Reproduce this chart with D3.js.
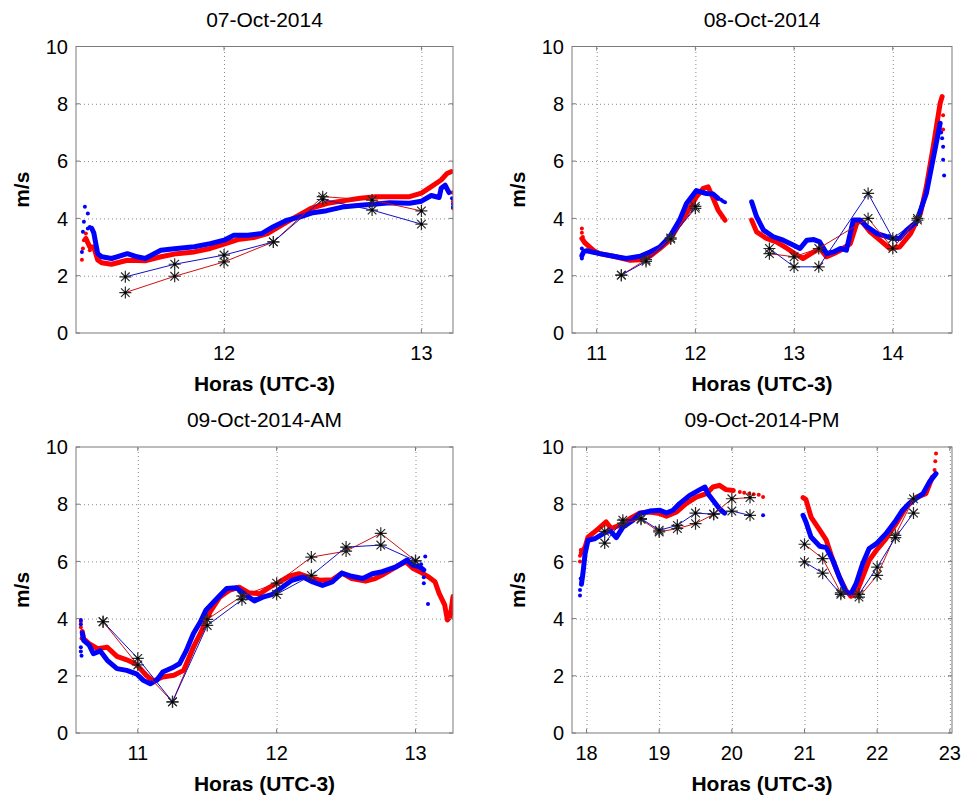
<!DOCTYPE html>
<html>
<head>
<meta charset="utf-8">
<script src="https://cdn.jsdelivr.net/npm/d3@7"></script>
<style>
  body { margin: 0; background: #fff; }
  text { font-family: "Liberation Sans", Arial, Helvetica, sans-serif; }
</style>
</head>
<body>
<div id="my_dataviz"></div>
<script>
// ---- data: [hour, m/s] ----
var yTicks = [0, 2, 4, 6, 8, 10];

// 07-Oct-2014
var p1Red = [[11.30,3.3],[11.32,3.0],[11.34,3.0],[11.36,2.55],[11.38,2.45],[11.43,2.40],[11.51,2.54],[11.60,2.52],[11.68,2.66],[11.76,2.77],[11.85,2.83],[11.93,2.95],[12.0,3.10],[12.07,3.26],[12.15,3.33],[12.22,3.47],[12.29,3.76],[12.35,4.0],[12.44,4.35],[12.52,4.52],[12.61,4.62],[12.69,4.70],[12.77,4.76],[12.84,4.76],[12.94,4.76],[13.0,4.88],[13.05,5.11],[13.10,5.34],[13.13,5.57],[13.15,5.63]];
var p1RedDots = [[11.28,2.56],[11.285,2.95],[11.29,3.24],[11.30,3.47],[11.31,3.12],[11.32,2.89],[13.155,4.9],[13.16,4.6],[13.16,4.35]];
var p1Blue = [[11.33,3.65],[11.34,3.5],[11.36,2.77],[11.38,2.66],[11.43,2.60],[11.51,2.77],[11.56,2.66],[11.60,2.60],[11.68,2.89],[11.76,2.95],[11.85,3.01],[11.93,3.12],[12.0,3.24],[12.05,3.41],[12.12,3.41],[12.19,3.47],[12.25,3.71],[12.32,3.94],[12.39,4.06],[12.45,4.20],[12.52,4.27],[12.61,4.41],[12.69,4.46],[12.77,4.50],[12.84,4.55],[12.94,4.53],[13.0,4.6],[13.05,4.8],[13.09,4.73],[13.10,5.05],[13.12,5.16],[13.14,4.9]];
var p1BlueDots = [[11.28,2.83],[11.285,3.53],[11.29,3.88],[11.295,4.41],[11.31,4.17],[11.31,3.65],[11.32,3.7],[13.155,4.7],[13.16,4.5],[13.16,4.4]];
var p1RedStars = [[11.5,1.41],[11.75,1.98],[12.0,2.48],[12.25,3.18],[12.5,4.76],[12.75,4.64],[13.0,4.26]];
var p1BlueStars = [[11.5,1.96],[11.75,2.40],[12.0,2.72],[12.25,3.18],[12.5,4.66],[12.75,4.29],[13.0,3.80]];

// 08-Oct-2014
var p2RedA = [[10.85,3.3],[10.88,3.15],[10.93,3.0],[10.98,2.85],[11.03,2.77],[11.17,2.68],[11.34,2.54],[11.44,2.56],[11.54,2.68],[11.64,2.95],[11.74,3.24],[11.84,3.82],[11.93,4.29],[12.01,4.75],[12.08,5.05],[12.13,5.10],[12.18,4.70],[12.23,4.29],[12.30,3.94]];
var p2RedB = [[12.57,3.94],[12.62,3.53],[12.72,3.30],[12.82,3.18],[12.93,2.95],[13.03,2.72],[13.09,2.60],[13.20,2.83],[13.26,2.95],[13.33,2.66],[13.40,2.77],[13.47,2.89],[13.57,3.12],[13.64,3.88],[13.69,3.88],[13.77,3.53],[13.87,3.24],[13.97,2.95],[14.07,3.0],[14.18,3.47],[14.28,4.17],[14.34,5.10],[14.41,6.50],[14.48,8.02],[14.50,8.25]];
var p2RedDots = [[10.85,3.65],[10.85,3.5],[10.86,3.35],[14.51,7.6],[14.51,7.1]];
var p2BlueA = [[10.85,2.7],[10.87,2.85],[10.90,2.87],[11.03,2.77],[11.17,2.68],[11.30,2.60],[11.44,2.68],[11.54,2.83],[11.64,3.0],[11.74,3.36],[11.84,3.94],[11.91,4.52],[12.01,4.97],[12.11,4.87],[12.18,4.85],[12.23,4.70]];
var p2BlueB = [[12.57,4.58],[12.62,4.06],[12.69,3.59],[12.79,3.36],[12.89,3.24],[12.99,3.07],[13.06,2.95],[13.13,3.24],[13.20,3.26],[13.26,3.18],[13.33,2.77],[13.40,2.83],[13.47,2.95],[13.53,2.89],[13.60,3.94],[13.67,3.94],[13.74,3.71],[13.84,3.47],[13.94,3.36],[14.01,3.30],[14.07,3.30],[14.14,3.59],[14.24,3.88],[14.34,4.87],[14.41,6.10],[14.48,7.32]];
var p2BlueDots = [[10.85,2.6],[10.85,2.95],[12.26,4.65],[12.28,4.6],[12.30,4.56],[14.49,7.0],[14.50,6.8],[14.51,6.5],[14.51,6.05],[14.52,5.5]];
var p2RedStarsA = [[11.25,2.02],[11.5,2.56],[11.75,3.32],[12.0,4.35]];
var p2RedStarsB = [[12.75,2.77],[13.0,2.66],[13.25,2.95],[13.75,4.0],[14.0,2.95],[14.25,4.0]];
var p2BlueStarsA = [[11.25,2.02],[11.5,2.50],[11.75,3.28],[12.0,4.42]];
var p2BlueStarsB = [[12.75,2.95],[13.0,2.31],[13.25,2.31],[13.75,4.87],[14.0,3.30],[14.25,3.94]];

// 09-Oct-2014-AM
var p3Red = [[10.60,3.55],[10.61,3.30],[10.65,3.12],[10.71,2.95],[10.78,3.0],[10.85,2.68],[10.92,2.56],[10.99,2.40],[11.06,2.02],[11.11,1.82],[11.18,1.96],[11.26,2.02],[11.33,2.19],[11.40,3.0],[11.45,3.47],[11.52,4.23],[11.59,4.75],[11.66,4.99],[11.73,5.10],[11.80,4.90],[11.88,4.87],[11.95,5.10],[12.02,5.28],[12.09,5.48],[12.16,5.57],[12.23,5.45],[12.31,5.34],[12.40,5.36],[12.47,5.59],[12.54,5.40],[12.64,5.31],[12.71,5.40],[12.76,5.52],[12.86,5.81],[12.93,5.99],[12.98,5.76],[13.03,5.64],[13.09,5.47],[13.14,5.29],[13.17,4.88],[13.21,4.48],[13.23,3.95],[13.25,4.07],[13.27,4.77]];
var p3RedDots = [[10.59,3.9],[10.59,3.7],[10.595,3.3]];
var p3Blue = [[10.60,3.5],[10.61,3.24],[10.65,3.07],[10.68,2.77],[10.73,2.87],[10.78,2.54],[10.85,2.25],[10.92,2.19],[10.99,2.07],[11.04,1.84],[11.09,1.72],[11.14,1.86],[11.18,2.13],[11.26,2.31],[11.30,2.42],[11.35,2.89],[11.40,3.47],[11.45,3.88],[11.49,4.29],[11.57,4.70],[11.64,5.05],[11.71,5.08],[11.78,4.81],[11.84,4.62],[11.90,4.75],[11.97,4.85],[12.04,5.10],[12.11,5.34],[12.19,5.45],[12.26,5.28],[12.33,5.16],[12.40,5.28],[12.47,5.59],[12.54,5.48],[12.62,5.40],[12.69,5.57],[12.76,5.64],[12.86,5.81],[12.94,6.05],[12.98,5.87],[13.03,5.81],[13.06,5.70]];
var p3BlueDots = [[10.59,3.95],[10.59,3.8],[10.59,3.0],[10.59,2.85],[10.595,2.7],[13.07,6.17],[13.06,5.45],[13.06,5.24],[13.09,4.51],[13.04,5.9]];
var p3RedStars = [[10.75,3.89],[11.0,2.38],[11.25,1.09],[11.5,3.97],[11.75,4.79],[12.0,5.24],[12.25,6.15],[12.5,6.36],[12.75,6.98],[13.0,6.02]];
var p3BlueStars = [[10.75,3.89],[11.0,2.61],[11.25,1.09],[11.5,3.76],[11.75,4.66],[12.0,4.85],[12.25,5.51],[12.5,6.50],[12.75,6.57],[13.0,6.02]];

// 09-Oct-2014-PM
var p4RedA = [[17.93,6.3],[17.98,6.50],[18.02,6.85],[18.09,6.99],[18.18,7.18],[18.27,7.38],[18.34,7.15],[18.46,7.27],[18.60,7.50],[18.73,7.69],[18.87,7.73],[19.01,7.67],[19.10,7.58],[19.24,7.73],[19.37,8.02],[19.51,8.25],[19.65,8.37],[19.74,8.60],[19.83,8.66],[19.92,8.51],[20.02,8.48]];
var p4RedB = [[20.98,8.23],[21.02,8.16],[21.09,7.55],[21.21,7.09],[21.30,6.74],[21.39,6.04],[21.48,5.45],[21.57,4.99],[21.64,4.78],[21.71,4.87],[21.80,5.45],[21.89,6.04],[21.99,6.39],[22.12,6.79],[22.26,7.32],[22.40,7.90],[22.53,8.23],[22.67,8.37],[22.76,8.95]];
var p4RedDots = [[17.91,6.0],[17.91,6.2],[17.92,6.4],[20.11,8.43],[20.17,8.40],[20.24,8.37],[20.30,8.35],[20.37,8.33],[20.43,8.25],[22.79,9.2],[22.80,9.5],[22.81,9.77]];
var p4BlueA = [[17.93,5.2],[17.95,5.57],[17.98,6.27],[18.02,6.74],[18.11,6.79],[18.23,6.97],[18.32,7.09],[18.41,6.83],[18.50,7.20],[18.64,7.44],[18.73,7.67],[18.87,7.76],[19.01,7.79],[19.10,7.69],[19.19,7.79],[19.28,8.02],[19.42,8.31],[19.56,8.51],[19.63,8.60],[19.67,8.37],[19.74,8.14],[19.83,7.84],[19.90,7.69]];
var p4BlueB = [[20.98,7.61],[21.02,7.38],[21.09,6.85],[21.21,6.53],[21.30,6.48],[21.39,6.04],[21.48,5.45],[21.57,4.93],[21.64,4.87],[21.71,5.22],[21.80,5.92],[21.89,6.45],[21.99,6.62],[22.12,6.97],[22.26,7.44],[22.35,7.79],[22.44,8.02],[22.53,8.19],[22.63,8.37],[22.72,8.78],[22.81,9.07]];
var p4BlueDots = [[17.91,4.81],[17.91,5.0],[17.92,5.4],[20.43,7.61]];
var p4RedStarsA = [[18.25,7.05],[18.5,7.34],[18.75,7.47],[19.0,7.03],[19.25,7.15],[19.5,7.32],[19.75,7.65],[20.0,8.19],[20.25,8.23]];
var p4RedStarsB = [[21.0,6.60],[21.25,6.1],[21.5,4.9],[21.75,4.75],[22.0,5.51],[22.25,6.91],[22.5,8.19]];
var p4BlueStarsA = [[18.25,6.64],[18.5,7.44],[18.75,7.5],[19.0,7.09],[19.25,7.26],[19.5,7.69],[19.75,7.65],[20.0,7.76],[20.25,7.61]];
var p4BlueStarsB = [[21.0,5.98],[21.25,5.59],[21.5,4.85],[21.75,4.85],[22.0,5.80],[22.25,6.83],[22.5,7.69]];

var panels = [
  { title: "07-Oct-2014", left: 76, right: 453, top: 46.5, bottom: 333,
    xDomain: [11.25, 13.16], xTicks: [12, 13],
    red: [p1Red], blue: [p1Blue], redDots: p1RedDots, blueDots: p1BlueDots,
    redStars: [p1RedStars], blueStars: [p1BlueStars] },
  { title: "08-Oct-2014", left: 572, right: 952, top: 46.5, bottom: 333,
    xDomain: [10.75, 14.6], xTicks: [11, 12, 13, 14],
    red: [p2RedA, p2RedB], blue: [p2BlueA, p2BlueB], redDots: p2RedDots, blueDots: p2BlueDots,
    redStars: [p2RedStarsA, p2RedStarsB], blueStars: [p2BlueStarsA, p2BlueStarsB] },
  { title: "09-Oct-2014-AM", left: 76, right: 453, top: 447, bottom: 733,
    xDomain: [10.555, 13.27], xTicks: [11, 12, 13],
    red: [p3Red], blue: [p3Blue], redDots: p3RedDots, blueDots: p3BlueDots,
    redStars: [p3RedStars], blueStars: [p3BlueStars] },
  { title: "09-Oct-2014-PM", left: 572, right: 952, top: 447, bottom: 733,
    xDomain: [17.8, 23.03], xTicks: [18, 19, 20, 21, 22, 23],
    red: [p4RedA, p4RedB], blue: [p4BlueA, p4BlueB], redDots: p4RedDots, blueDots: p4BlueDots,
    redStars: [p4RedStarsA, p4RedStarsB], blueStars: [p4BlueStarsA, p4BlueStarsB] }
];

var svg = d3.select("#my_dataviz")
  .append("svg")
  .attr("width", 967)
  .attr("height", 800);

function drawPanel(p) {
  var w = p.right - p.left,
      h = p.bottom - p.top;

  var x = d3.scaleLinear().domain(p.xDomain).range([0, w]);
  var y = d3.scaleLinear().domain([0, 10]).range([h, 0]);

  var g = svg.append("g")
    .attr("transform", "translate(" + p.left + "," + p.top + ")");

  var clipId = "clip" + Math.round(p.left) + Math.round(p.top);
  g.append("clipPath").attr("id", clipId)
    .append("rect").attr("width", w).attr("height", h);

  // dotted grid
  g.append("g")
    .attr("transform", "translate(0," + h + ")")
    .call(d3.axisBottom(x).tickValues(p.xTicks).tickSize(-h).tickFormat(""))
    .call(function (s) { s.select(".domain").remove(); })
    .selectAll("line")
    .attr("stroke", "#8c8c8c").attr("stroke-dasharray", "1,3");

  g.append("g")
    .call(d3.axisLeft(y).tickValues(yTicks.slice(1, 5)).tickSize(-w).tickFormat(""))
    .call(function (s) { s.select(".domain").remove(); })
    .selectAll("line")
    .attr("stroke", "#8c8c8c").attr("stroke-dasharray", "1,3");

  var plot = g.append("g").attr("clip-path", "url(#" + clipId + ")");

  var line = d3.line()
    .x(function (d) { return x(d[0]); })
    .y(function (d) { return y(d[1]); });

  // dense measured series (thick dotted bands)
  function band(list, dots, color) {
    list.forEach(function (seg) {
      plot.append("path")
        .datum(seg)
        .attr("fill", "none")
        .attr("stroke", color)
        .attr("stroke-width", 5)
        .attr("stroke-linejoin", "round")
        .attr("stroke-linecap", "round")
        .attr("d", line);
    });
    plot.selectAll(null)
      .data(dots)
      .enter()
      .append("circle")
      .attr("cx", function (d) { return x(d[0]); })
      .attr("cy", function (d) { return y(d[1]); })
      .attr("r", 2)
      .attr("fill", color);
  }
  band(p.red, p.redDots, "#ff0000");
  band(p.blue, p.blueDots, "#0000ff");

  // thin lines with asterisk markers
  function stars(list, color) {
    list.forEach(function (seg) {
      plot.append("path")
        .datum(seg)
        .attr("fill", "none")
        .attr("stroke", color)
        .attr("stroke-width", 1)
        .attr("d", line);
    });
    list.forEach(function (seg) {
      var m = plot.selectAll(null)
        .data(seg)
        .enter()
        .append("g")
        .attr("transform", function (d) { return "translate(" + x(d[0]) + "," + y(d[1]) + ")"; });
      m.append("path")
        .attr("d", "M-6,0H6M0,-6V6M-4.3,-4.3L4.3,4.3M-4.3,4.3L4.3,-4.3")
        .attr("stroke", "#2a2a2a")
        .attr("stroke-width", 1.2);
      m.append("circle").attr("r", 1.4).attr("fill", "#000");
    });
  }
  stars(p.redStars, "#d01010");
  stars(p.blueStars, "#1010c8");

  // box with inward ticks
  g.append("rect")
    .attr("width", w).attr("height", h)
    .attr("fill", "none")
    .attr("stroke", "#7a7a7a")
    .attr("stroke-width", 1);

  p.xTicks.forEach(function (t) {
    g.append("line").attr("x1", x(t)).attr("x2", x(t)).attr("y1", h).attr("y2", h - 4).attr("stroke", "#7a7a7a");
    g.append("line").attr("x1", x(t)).attr("x2", x(t)).attr("y1", 0).attr("y2", 4).attr("stroke", "#7a7a7a");
  });
  yTicks.forEach(function (t) {
    g.append("line").attr("x1", 0).attr("x2", 4).attr("y1", y(t)).attr("y2", y(t)).attr("stroke", "#7a7a7a");
    g.append("line").attr("x1", w).attr("x2", w - 4).attr("y1", y(t)).attr("y2", y(t)).attr("stroke", "#7a7a7a");
  });

  // tick labels
  g.selectAll(null)
    .data(p.xTicks)
    .enter()
    .append("text")
    .attr("x", function (d) { return x(d); })
    .attr("y", h + 27)
    .attr("text-anchor", "middle")
    .style("font-size", "20px")
    .text(function (d) { return d; });

  g.selectAll(null)
    .data(yTicks)
    .enter()
    .append("text")
    .attr("x", -8)
    .attr("y", function (d) { return y(d); })
    .attr("dy", "0.36em")
    .attr("text-anchor", "end")
    .style("font-size", "20px")
    .text(function (d) { return d; });

  // title and axis labels
  g.append("text")
    .attr("x", w / 2)
    .attr("y", -20)
    .attr("text-anchor", "middle")
    .style("font-size", "21px")
    .text(p.title);

  g.append("text")
    .attr("x", w / 2)
    .attr("y", h + 58)
    .attr("text-anchor", "middle")
    .style("font-size", "21px")
    .style("font-weight", "bold")
    .text("Horas (UTC-3)");

  g.append("text")
    .attr("transform", "rotate(-90)")
    .attr("x", -h / 2)
    .attr("y", -47)
    .attr("text-anchor", "middle")
    .style("font-size", "21px")
    .style("font-weight", "bold")
    .text("m/s");
}

panels.forEach(drawPanel);
</script>
</body>
</html>
